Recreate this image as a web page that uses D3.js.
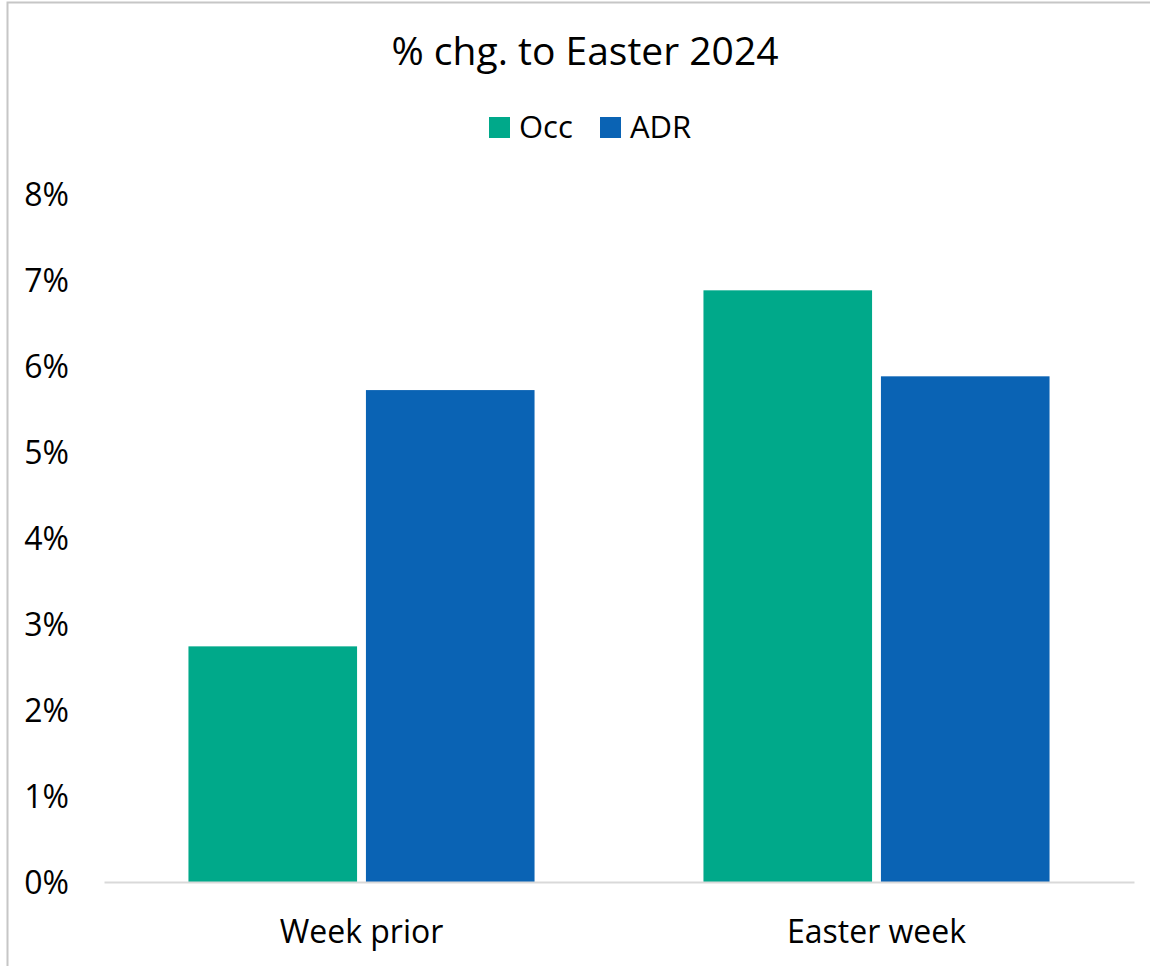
<!DOCTYPE html>
<html>
<head>
<meta charset="utf-8">
<script src="https://cdn.jsdelivr.net/npm/d3@7"></script>
<style>
  html, body { margin: 0; padding: 0; background: #fff; }
  svg { display: block; }
  text { font-family: "Open Sans", "Liberation Sans", sans-serif; fill: #000; }
</style>
</head>
<body>
<svg id="chart" width="1150" height="966"></svg>
<script>
const categories = ["Week prior", "Easter week"];
const seriesNames = ["Occ", "ADR"];
const occValues = [2.74, 6.88];
const adrValues = [5.72, 5.88];
const yTicks = [0, 1, 2, 3, 4, 5, 6, 7, 8];
const seriesColors = ["#00A98A", "#0A63B4"];
const title = "% chg. to Easter 2024";

const svg = d3.select("#chart");

// border (chart area frame)
svg.append("rect")
  .attr("x", 7.5).attr("y", 2.5)
  .attr("width", 1200).attr("height", 1000)
  .attr("fill", "none").attr("stroke", "#c6c6c6").attr("stroke-width", 2);

const plot = { left: 104, right: 1134, top: 194, bottom: 882 };

const x0 = d3.scaleBand().domain(categories)
  .range([plot.left, plot.right]).paddingInner(0.328).paddingOuter(0.164);
const x1 = d3.scaleBand().domain(seriesNames)
  .range([0, x0.bandwidth()]).paddingInner(0.05);
const y = d3.scaleLinear().domain([0, 8]).range([plot.bottom, plot.top]);
const color = d3.scaleOrdinal().domain(seriesNames).range(seriesColors);

const rows = categories.map((c, i) => ({ cat: c, vals: [
  { s: "Occ", v: occValues[i] }, { s: "ADR", v: adrValues[i] } ] }));

// bars
const g = svg.append("g");
g.selectAll("g.grp").data(rows).join("g")
  .attr("class", "grp")
  .attr("transform", d => `translate(${x0(d.cat)},0)`)
  .selectAll("rect").data(d => d.vals).join("rect")
  .attr("x", d => x1(d.s))
  .attr("width", x1.bandwidth())
  .attr("y", d => y(d.v))
  .attr("height", d => y(0) - y(d.v))
  .attr("fill", d => color(d.s));

// y axis labels
const yAxis = d3.axisLeft(y).tickValues(yTicks).tickFormat(d => d + "%").tickSize(0).tickPadding(0);
const yg = svg.append("g").attr("transform", "translate(69,0)").call(yAxis);
yg.select(".domain").remove();
yg.selectAll("text").attr("font-size", 32).attr("font-family", "Open Sans").attr("fill", "#000").attr("dy", "0.36em");

// x axis
const xAxis = d3.axisBottom(x0).tickSize(0).tickPadding(0);
const xg = svg.append("g").attr("transform", `translate(0,${plot.bottom})`).call(xAxis);
xg.select(".domain").attr("stroke", "#d9d9d9").attr("stroke-width", 2);
xg.selectAll("text").attr("font-size", 32).attr("font-family", "Open Sans").attr("fill", "#000").attr("dy", null).attr("y", 61);

// title
svg.append("text").attr("x", 585).attr("y", 65).attr("text-anchor", "middle")
  .attr("font-size", 39).text(title);

// legend
const leg = svg.append("g");
const legendX = [489, 600];
seriesNames.forEach((s, i) => {
  leg.append("rect").attr("x", legendX[i]).attr("y", 117).attr("width", 21).attr("height", 21).attr("fill", color(s));
  leg.append("text").attr("x", legendX[i] + 30).attr("y", 138).attr("font-size", 31).text(s);
});
</script>
</body>
</html>
